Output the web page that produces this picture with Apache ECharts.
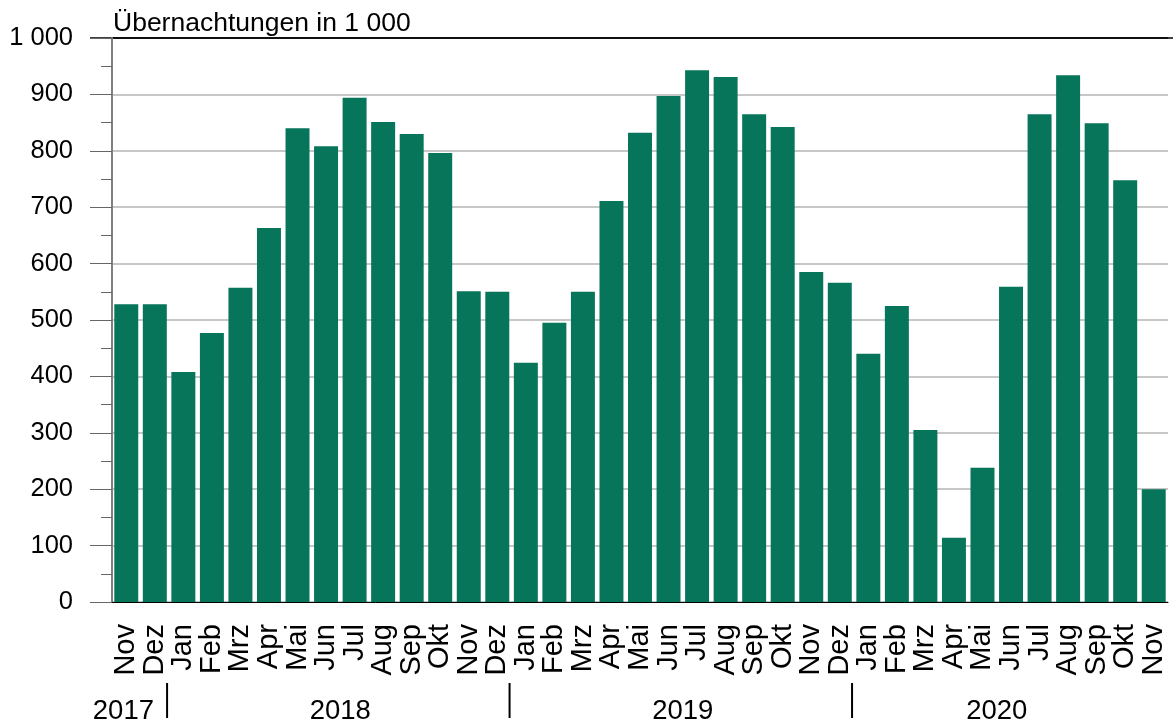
<!DOCTYPE html>
<html>
<head>
<meta charset="utf-8">
<script src="https://cdn.jsdelivr.net/npm/echarts@6/dist/echarts.min.js"></script>
<style>
  html, body { margin: 0; padding: 0; background: #fff; }
  #main { width: 1173px; height: 726px; }
</style>
</head>
<body>
<div id="main"></div>
<script>
var months = [
    'Nov', 'Dez',
    'Jan', 'Feb', 'Mrz', 'Apr', 'Mai', 'Jun', 'Jul', 'Aug', 'Sep', 'Okt', 'Nov', 'Dez',
    'Jan', 'Feb', 'Mrz', 'Apr', 'Mai', 'Jun', 'Jul', 'Aug', 'Sep', 'Okt', 'Nov', 'Dez',
    'Jan', 'Feb', 'Mrz', 'Apr', 'Mai', 'Jun', 'Jul', 'Aug', 'Sep', 'Okt', 'Nov'
];
// Übernachtungen in 1 000
var nights = [
    528, 528,
    408, 477, 557, 663, 840, 808, 894, 851, 830, 796, 551, 550,
    424, 495, 550, 711, 832, 897, 943, 931, 865, 842, 585, 566,
    440, 525, 305, 114, 238, 559, 865, 934, 849, 748, 200
];
var years = ['2017', '2018', '2019', '2020'];
// where each year label sits, in category units
var yearAt = [-0.1, 7.5, 19.5, 30.5];
var yTicks = [0, 100, 200, 300, 400, 500, 600, 700, 800, 900, 1000];

var font = 'Liberation Sans, Arial, sans-serif';
var gridColors = yTicks.map(function (v) { return v === 1000 ? '#000' : '#b4b4b4'; });

var myChart = echarts.init(document.getElementById('main'));
var option = {
    animation: false,
    backgroundColor: '#fff',
    textStyle: { fontFamily: font },
    title: {
        text: 'Übernachtungen in 1 000',
        left: 108,
        top: 5,
        textStyle: { fontSize: 26.5, fontWeight: 'normal', color: '#000', fontFamily: font }
    },
    grid: { left: 112, right: 5, top: 38, bottom: 124 },
    xAxis: {
        type: 'category',
        data: months,
        axisLine: { lineStyle: { color: '#000', width: 1 } },
        axisTick: { length: 11, lineStyle: { color: '#555' } },
        axisLabel: {
            rotate: 90,
            interval: 0,
            margin: 22,
            fontSize: 29,
            color: '#000',
            fontFamily: font
        }
    },
    yAxis: {
        type: 'value',
        min: 0,
        max: 1000,
        interval: 100,
        axisLine: { show: true, lineStyle: { color: '#808080', width: 2 } },
        axisTick: { show: true, length: 22, lineStyle: { color: '#666' } },
        minorTick: { show: true, splitNumber: 2, length: 11, lineStyle: { color: '#666' } },
        splitLine: { show: true, lineStyle: { color: gridColors, width: 1.5 } },
        axisLabel: {
            margin: 39,
            fontSize: 25.5,
            color: '#000',
            fontFamily: font,
            formatter: function (v) { return v === 1000 ? '1 000' : String(v); }
        }
    },
    series: [{
        type: 'bar',
        data: nights,
        barCategoryGap: '16%',
        itemStyle: { color: '#07755a' }
    }]
};
myChart.setOption(option);

// year labels and separators under the month labels
var graphics = [];
var x0 = myChart.convertToPixel({ xAxisIndex: 0 }, 0);
var x1 = myChart.convertToPixel({ xAxisIndex: 0 }, 1);
var step = x1 - x0;
var yTop = myChart.convertToPixel({ yAxisIndex: 0 }, 1000);
var yAxisX = x0 - step / 2;
graphics.push({
    type: 'line',
    shape: { x1: yAxisX - 22, y1: yTop, x2: 1173, y2: yTop },
    style: { stroke: '#000', lineWidth: 1.5 }
});
months.forEach(function (m, i) {
    if (m === 'Jan' && i > 0) {
        var bx = x0 + (i - 0.5) * step;
        graphics.push({
            type: 'line',
            shape: { x1: bx - 2, y1: 683, x2: bx - 2, y2: 718 },
            style: { stroke: '#000', lineWidth: 2 }
        });
    }
});
years.forEach(function (y, k) {
    graphics.push({
        type: 'text',
        x: x0 + yearAt[k] * step,
        y: 711,
        style: {
            text: y,
            fill: '#000',
            font: '27.5px ' + font,
            textAlign: 'center',
            textVerticalAlign: 'middle'
        }
    });
});
myChart.setOption({ graphic: graphics });
</script>
</body>
</html>
